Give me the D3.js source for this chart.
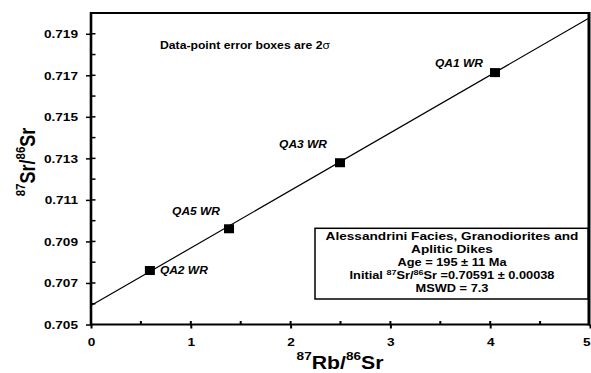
<!DOCTYPE html>
<html><head><meta charset="utf-8">
<script src="https://cdn.jsdelivr.net/npm/d3@7"></script>
<style>
body{margin:0;background:#fff}
svg{display:block}
text{font-family:"Liberation Sans",Arial,sans-serif;fill:#000}
</style>
</head><body>
<svg id="c" width="591" height="373"></svg>
<script>
// ---- data ----
const sampleNames = ["QA2 WR", "QA5 WR", "QA3 WR", "QA1 WR"];
const rbSr = [0.59, 1.383, 2.495, 4.048];          // 87Rb/86Sr
const srSr = [0.70760, 0.70961, 0.71279, 0.71713]; // 87Sr/86Sr
const isochronX = [0, 5];
const isochronY = [0.70591, 0.71978];
const xTickVals = [0, 1, 2, 3, 4, 5];
const xMinorVals = [0.5, 1.5, 2.5, 3.5, 4.5];
const yTickVals = [0.705, 0.707, 0.709, 0.711, 0.713, 0.715, 0.717, 0.719];
const yMinorVals = [0.706, 0.707, 0.708, 0.709, 0.710, 0.711, 0.712, 0.713, 0.714, 0.715, 0.716, 0.717, 0.718, 0.719];
const noteText = "Data-point error boxes are 2";
const legendTitle = ["Alessandrini Facies, Granodiorites and", "Aplitic Dikes"];
const legendAge = "Age = 195 \u00B1 11 Ma";
const legendInitial = ["Initial ", "87", "Sr/", "86", "Sr =0.70591 \u00B1 0.00038"];
const legendMswd = "MSWD = 7.3";

// ---- layout ----
const K = 1.24; // horizontal stretch of the original figure's text
const svg = d3.select("#c");
const x = d3.scaleLinear().domain([0, 5]).range([91, 590]);
const y = d3.scaleLinear().domain([0.705, 0.720]).range([324.5, 13]);

function txt(g, px, py, str, o = {}) {
  const t = g.append("text")
    .attr("transform", `translate(${px},${py}) scale(${o.k || K},1)` + (o.rot ? ` rotate(${o.rot})` : ""))
    .attr("text-anchor", o.anchor || "start")
    .style("font-size", (o.size || 10) + "px")
    .style("font-weight", o.weight || "bold")
    .style("font-style", o.style || "normal");
  if (Array.isArray(str)) return t;
  t.text(str);
  return t;
}

// ---- isochron line ----
const lineData = isochronX.map((d, i) => [d, isochronY[i]]);
svg.append("path")
  .attr("d", d3.line().x(d => x(d[0])).y(d => y(d[1]))(lineData))
  .attr("stroke", "#000").attr("stroke-width", 1.2).attr("fill", "none");

// ---- axes ----
const yAxis = d3.axisLeft(y).tickValues(yTickVals).tickSize(5).tickSizeOuter(0)
  .tickFormat(d3.format(".3f"));
const gy = svg.append("g").attr("transform", "translate(91,0)").call(yAxis);
gy.select(".domain").remove();
gy.selectAll(".tick line").attr("stroke-width", 1.5);
gy.selectAll(".tick text")
  .attr("x", null).attr("dy", null)
  .attr("transform", `translate(-13,4) scale(${K},1)`)
  .attr("text-anchor", "end")
  .style("font-family", '"Liberation Sans",Arial,sans-serif')
  .style("font-size", "11px").style("font-weight", "bold");

const xAxis = d3.axisBottom(x).tickValues(xTickVals).tickSize(4).tickSizeOuter(0)
  .tickFormat(d3.format("d"));
const gx = svg.append("g").attr("transform", "translate(0,324.5)").call(xAxis);
gx.select(".domain").remove();
gx.selectAll(".tick line").attr("stroke-width", 2);
gx.selectAll(".tick text")
  .attr("y", null).attr("dy", null)
  .attr("transform", (d, i, n) => `translate(${i === n.length - 1 ? 0 : 0},21) scale(${K},1)`)
  .attr("text-anchor", (d, i, n) => i === n.length - 1 ? "end" : "middle")
  .style("font-family", '"Liberation Sans",Arial,sans-serif')
  .style("font-size", "11px").style("font-weight", "bold");

// inner ticks
svg.append("g").selectAll("line").data(yMinorVals).join("line")
  .attr("x1", 91).attr("x2", 95.5).attr("y1", d => y(d)).attr("y2", d => y(d))
  .attr("stroke", "#000").attr("stroke-width", 1.5);
svg.append("g").selectAll("line").data(xMinorVals.concat([1, 2, 3, 4])).join("line")
  .attr("x1", d => x(d)).attr("x2", d => x(d)).attr("y1", 324.5).attr("y2", 321)
  .attr("stroke", "#000").attr("stroke-width", 2);

// frame
const [x0, x1] = x.range(), [y0, y1] = y.range();
svg.append("line").attr("x1", x0).attr("x2", x1).attr("y1", y1).attr("y2", y1).attr("stroke", "#000").attr("stroke-width", 2);
svg.append("line").attr("x1", x0).attr("x2", x1).attr("y1", y0).attr("y2", y0).attr("stroke", "#000").attr("stroke-width", 2);
svg.append("line").attr("x1", x0).attr("x2", x0).attr("y1", y1 - 1).attr("y2", y0 + 1).attr("stroke", "#000").attr("stroke-width", 2.6);
svg.append("line").attr("x1", x1 - 1).attr("x2", x1 - 1).attr("y1", y1 - 1).attr("y2", y0 + 1).attr("stroke", "#000").attr("stroke-width", 3);

// ---- data points (error boxes) ----
svg.append("g").selectAll("rect").data(rbSr).join("rect")
  .attr("x", (d) => x(d) - 5).attr("y", (d, i) => y(srSr[i]) - 4.5)
  .attr("width", 10).attr("height", 9).attr("fill", "#000");

// point labels
const labelPlace = {
  "QA2 WR": {dx: 10, dy: 3.5, anchor: "start"},
  "QA5 WR": {dx: -9, dy: -14, anchor: "end"},
  "QA3 WR": {dx: -13, dy: -14.5, anchor: "end"},
  "QA1 WR": {dx: -12, dy: -6, anchor: "end"}
};
sampleNames.forEach((n, i) => {
  const p = labelPlace[n];
  txt(svg, x(rbSr[i]) + p.dx, y(srSr[i]) + p.dy, n, {size: 10, style: "italic", anchor: p.anchor, k: 1.2});
});

// ---- note ----
const note = txt(svg, 160, 49, [], {size: 10, k: 1.22});
note.append("tspan").text(noteText);
note.append("tspan").style("font-weight", "normal").text("\u03C3");

// ---- axis titles ----
function ratioTitle(g, px, py, a, b, rot) {
  const t = txt(g, px, py, [], {size: 18, anchor: "middle", k: 1.18, rot: rot});
  t.append("tspan").attr("dy", -8.5).style("font-size", "11.5px").text("87");
  t.append("tspan").attr("dy", 8.5).text(a + "/");
  t.append("tspan").attr("dy", -8.5).style("font-size", "11.5px").text("86");
  t.append("tspan").attr("dy", 8.5).text(b);
}
ratioTitle(svg, 340, 368.5, "Rb", "Sr", 0);
ratioTitle(svg, 35, 162, "Sr", "Sr", -90);

// ---- legend box ----
const lg = svg.append("g");
lg.append("rect").attr("x", 315).attr("y", 228.3).attr("width", 273).attr("height", 70.7)
  .attr("fill", "#fff").attr("stroke", "#000").attr("stroke-width", 1.5);
const cx = 452;
txt(lg, cx, 240, legendTitle[0], {size: 11, anchor: "middle", k: 1.24});
txt(lg, cx, 253, legendTitle[1], {size: 11, anchor: "middle", k: 1.24});
txt(lg, cx, 266, legendAge, {size: 10, anchor: "middle", k: 1.28});
const ini = txt(lg, cx, 279, [], {size: 10, anchor: "middle", k: 1.28});
legendInitial.forEach((s, i) => {
  const sup = (i === 1 || i === 3);
  ini.append("tspan").attr("dy", sup ? -4 : (i === 0 ? 0 : 4))
    .style("font-size", sup ? "7px" : null).text(s);
});
txt(lg, cx, 292, legendMswd, {size: 10, anchor: "middle", k: 1.28});
</script>
</body></html>
